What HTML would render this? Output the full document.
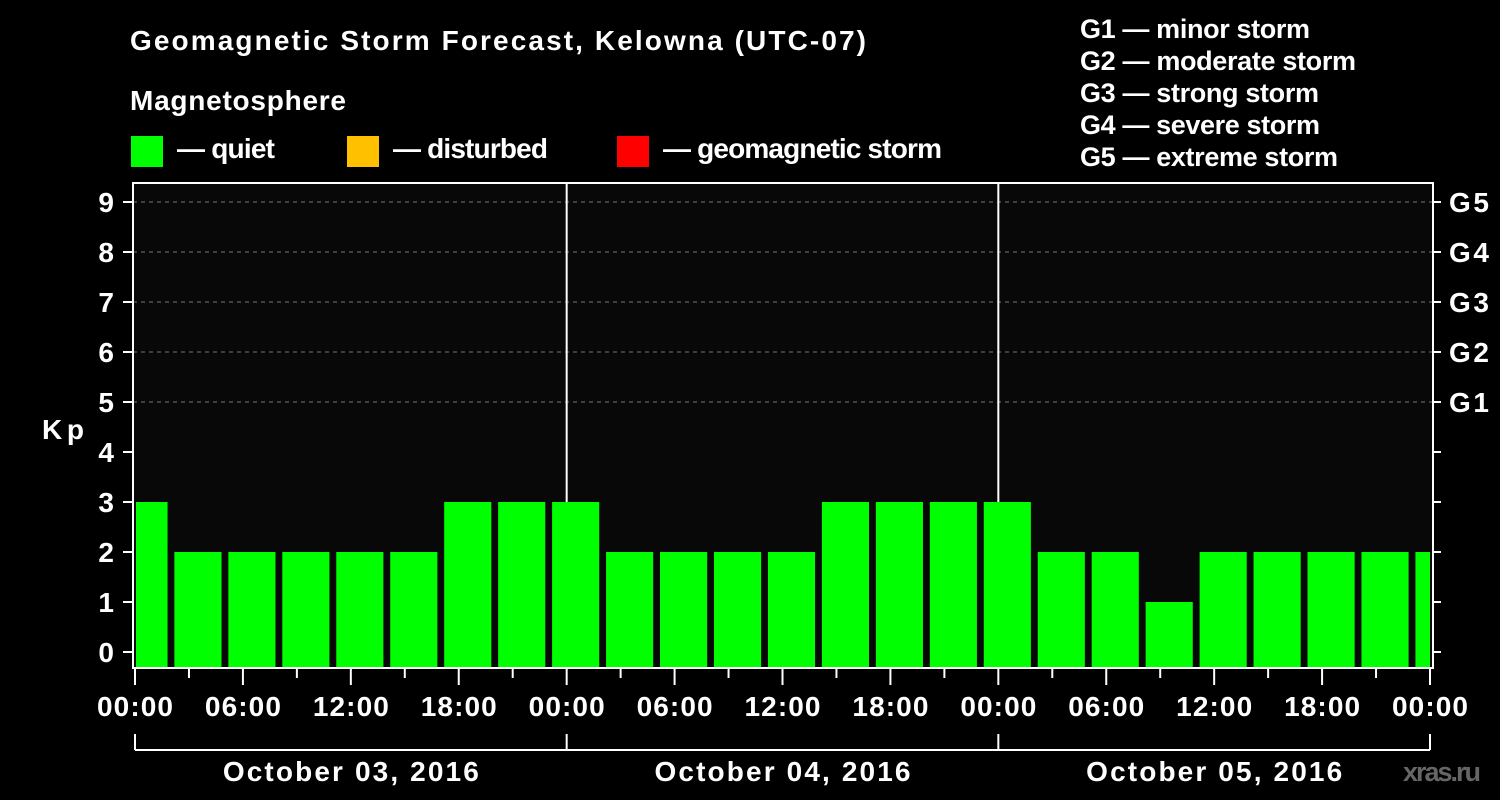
<!DOCTYPE html>
<html><head><meta charset="utf-8"><style>
body{margin:0;background:#000;}
svg{display:block;font-family:"Liberation Sans",Arial,sans-serif;font-weight:bold;}
</style></head><body>
<svg id="chart" width="1500" height="800" viewBox="0 0 1500 800">
<rect x="0" y="0" width="1500" height="800" fill="#000"/>
<rect x="133" y="183" width="1300" height="485" fill="#080808"/>
<text x="130" y="50" fill="#fff" font-size="28" textLength="736" lengthAdjust="spacing">Geomagnetic Storm Forecast, Kelowna (UTC-07)</text>
<text x="130" y="110" fill="#fff" font-size="28" textLength="216" lengthAdjust="spacing">Magnetosphere</text>
<g><rect x="131" y="136" width="32" height="31" fill="#00ff00"/><text x="177" y="158" fill="#fff" font-size="28" textLength="98" lengthAdjust="spacing">— quiet</text></g>
<g><rect x="347" y="136" width="32" height="31" fill="#ffc000"/><text x="393" y="158" fill="#fff" font-size="28" textLength="155" lengthAdjust="spacing">— disturbed</text></g>
<g><rect x="617" y="136" width="32" height="31" fill="#ff0000"/><text x="663" y="158" fill="#fff" font-size="28" textLength="279" lengthAdjust="spacing">— geomagnetic storm</text></g>
<g fill="#fff" font-size="27">
<text x="1080" y="38" textLength="230" lengthAdjust="spacing">G1 — minor storm</text>
<text x="1080" y="70" textLength="276" lengthAdjust="spacing">G2 — moderate storm</text>
<text x="1080" y="102" textLength="239" lengthAdjust="spacing">G3 — strong storm</text>
<text x="1080" y="134" textLength="240" lengthAdjust="spacing">G4 — severe storm</text>
<text x="1080" y="166" textLength="258" lengthAdjust="spacing">G5 — extreme storm</text>
</g>
<text x="42" y="439" fill="#fff" font-size="28" textLength="42" lengthAdjust="spacing">Kp</text>
<text x="1403" y="781" fill="#666" font-size="27" textLength="78" lengthAdjust="spacing">xras.ru</text>
<g id="grid"></g><g id="bars"></g><g id="axes"></g>
</svg>
<script>
const kpValues=[3,2,2,2,2,2,3,3,3,2,2,2,2,3,3,3,3,2,2,1,2,2,2,2,2];
const barHours=[0.5,3.5,6.5,9.5,12.5,15.5,18.5,21.5,24.5,27.5,30.5,33.5,36.5,39.5,42.5,45.5,48.5,51.5,54.5,57.5,60.5,63.5,66.5,69.5,72.5];
const yTicks=[0,1,2,3,4,5,6,7,8,9];
const gLabels=["G1","G2","G3","G4","G5"];
const gKp=[5,6,7,8,9];
const xTickLabels=["00:00","06:00","12:00","18:00","00:00","06:00","12:00","18:00","00:00","06:00","12:00","18:00","00:00"];
const dayLabels=["October 03, 2016","October 04, 2016","October 05, 2016"];
const NS="http://www.w3.org/2000/svg";
const X0=135,X1=1430,H0=0,H1=72;
const x=h=>X0+(h-H0)/(H1-H0)*(X1-X0);
const y=k=>652-50*k;
function mk(tag,attrs,parent){const e=document.createElementNS(NS,tag);for(const k in attrs)e.setAttribute(k,attrs[k]);parent.appendChild(e);return e;}
const grid=document.getElementById('grid'),bars=document.getElementById('bars'),axes=document.getElementById('axes');
gKp.forEach(k=>{const l=mk('line',{x1:133,x2:1433,y1:y(k),y2:y(k),stroke:'#777','stroke-dasharray':'4,4','stroke-width':1},grid);

});
[24,48].forEach(h=>{const l=mk('line',{x1:x(h),x2:x(h),y1:183,y2:668,stroke:'#fff','stroke-width':2},grid);

});
const bw=2.62*(X1-X0)/(H1-H0);
kpValues.forEach((v,i)=>{const c=x(barHours[i]);let a=Math.max(c-bw/2,X0+1),b=Math.min(c+bw/2,X1);
const r=mk('rect',{x:a,y:y(v),width:b-a,height:668-y(v),fill:v>=5?'#ff0000':(v>=4?'#ffc000':'#00ff00')},bars);

});
const fr=mk('rect',{x:133,y:183,width:1300,height:485,fill:'none',stroke:'#fff','stroke-width':2},axes);


yTicks.forEach(k=>{mk('line',{x1:123,x2:133,y1:y(k),y2:y(k),stroke:'#fff','stroke-width':2},axes);
mk('line',{x1:1433,x2:1441,y1:y(k),y2:y(k),stroke:'#fff','stroke-width':2},axes);
const t=mk('text',{x:114,y:y(k)+10,fill:'#fff','font-size':28,'text-anchor':'end'},axes);t.textContent=k;

});
gLabels.forEach((g,i)=>{const t=mk('text',{x:1449,y:y(gKp[i])+10,fill:'#fff','font-size':28,textLength:40,lengthAdjust:'spacing'},axes);t.textContent=g;

});
for(let h=0;h<=72;h+=3){mk('line',{x1:x(h),x2:x(h),y1:668,y2:h%6==0?685:678,stroke:'#fff','stroke-width':2},axes);}
xTickLabels.forEach((s,i)=>{const t=mk('text',{x:x(i*6)-38,y:716,fill:'#fff','font-size':28,textLength:76,lengthAdjust:'spacing'},axes);t.textContent=s;

});
mk('line',{x1:X0,x2:X1,y1:750,y2:750,stroke:'#fff','stroke-width':2},axes);
[0,24,48,72].forEach(h=>mk('line',{x1:x(h),x2:x(h),y1:734,y2:750,stroke:'#fff','stroke-width':2},axes));
dayLabels.forEach((s,i)=>{const t=mk('text',{x:x(i*24+12)-128,y:781,fill:'#fff','font-size':28,textLength:256,lengthAdjust:'spacing'},axes);t.textContent=s;

});
</script>
</body></html>
